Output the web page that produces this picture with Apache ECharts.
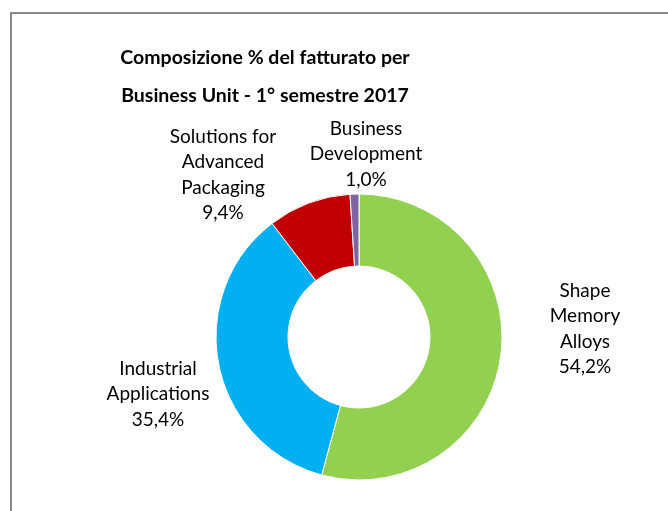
<!DOCTYPE html>
<html>
<head>
<meta charset="utf-8">
<script src="https://cdn.jsdelivr.net/npm/echarts@6/dist/echarts.min.js"></script>
<style>
  html, body { margin: 0; padding: 0; background: #fff; }
  #chart { width: 668px; height: 511px; }
</style>
</head>
<body>
<div id="chart"></div>
<script>
// fatturato per Business Unit, 1° semestre 2017 (%)
const categories = ['Shape\nMemory\nAlloys', 'Industrial\nApplications', 'Solutions for\nAdvanced\nPackaging', 'Business\nDevelopment']
const values = [54.2, 35.4, 9.4, 1.0]
const colors = ['#92D050', '#00B0F0', '#C00000', '#8064A2']

// where Excel put each data label (centre of the text block)
const labelSpots = [[585, 329], [158, 394], [223, 175], [366, 154]]

const chartDom = document.getElementById('chart')
const myChart = echarts.init(chartDom, null, { renderer: 'canvas' })

const fontFamily = 'Lato, "Open Sans", sans-serif'

const option = {
  backgroundColor: '#fff',
  animation: false,
  title: {
    text: 'Composizione % del fatturato per\nBusiness Unit - 1° semestre 2017',
    left: 260,
    top: 34,
    textAlign: 'center',
    textStyle: {
      fontFamily,
      fontSize: 19.5,
      fontWeight: 'bold',
      color: '#000',
      lineHeight: 38,
    },
  },
  graphic: [
    {
      type: 'rect',
      shape: { x: 11, y: 13, width: 700, height: 520 },
      style: { fill: 'none', stroke: '#898989', lineWidth: 2 },
      silent: true,
    },
  ],
  series: [
    {
      type: 'pie',
      center: [359, 337],
      radius: [71, 143],
      startAngle: 90,
      clockwise: true,
      itemStyle: { borderColor: '#fff', borderWidth: 1 },
      label: {
        show: true,
        position: 'outside',
        fontFamily,
        fontSize: 19,
        lineHeight: 25.5,
        color: '#000',
        align: 'center',
        formatter: (p) => `${p.name}\n${values[p.dataIndex].toFixed(1).replace('.', ',')}%`,
      },
      labelLine: { show: false },
      labelLayout: (p) => ({
        x: labelSpots[p.dataIndex][0],
        y: labelSpots[p.dataIndex][1],
        align: 'center',
        verticalAlign: 'middle',
      }),
      data: categories.map((name, i) => ({
        name,
        value: values[i],
        itemStyle: { color: colors[i] },
      })),
    },
  ],
}
option && myChart.setOption(option)
</script>
</body>
</html>
